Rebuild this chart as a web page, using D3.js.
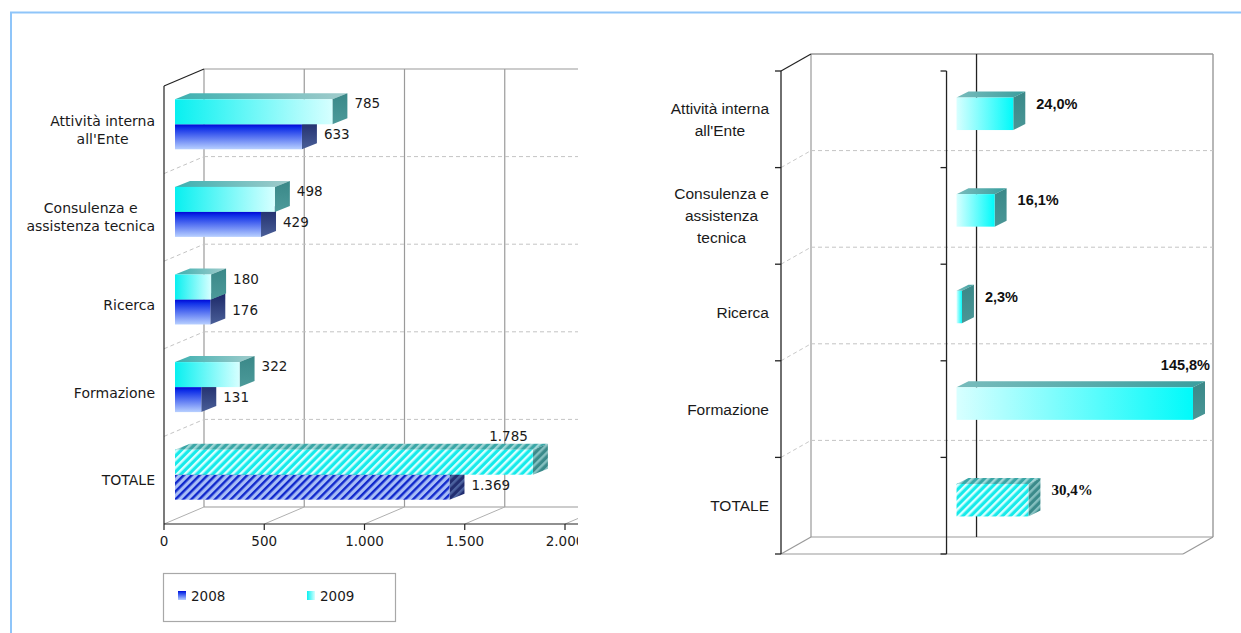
<!DOCTYPE html>
<html>
<head>
<meta charset="utf-8">
<script src="https://cdn.jsdelivr.net/npm/d3@7"></script>
<style>
  html, body { margin: 0; padding: 0; background: #fff; overflow: hidden; }
</style>
</head>
<body>
<script>
// ---- data ----
const categories = ["Attività interna all'Ente", "Consulenza e assistenza tecnica", "Ricerca", "Formazione", "TOTALE"];
const seriesNames = ["2008", "2009"];
const values2008 = [633, 429, 176, 131, 1369];
const values2009 = [785, 498, 180, 322, 1785];
const growthPct = [24.0, 16.1, 2.3, 145.8, 30.4];
const leftTicks = [0, 500, 1000, 1500, 2000];
const rightDomain = [-70, 100];
const totalCategory = "TOTALE";

// ---- setup ----
const W = 1241, H = 633;
const svg = d3.select("body").append("svg")
  .attr("width", W).attr("height", H).style("display", "block");
const defs = svg.append("defs");

const it = d3.formatLocale({ decimal: ",", thousands: ".", grouping: [3], currency: ["€", ""] });
const fmtInt = it.format(",d");
const fmtPct = v => it.format(",.1f")(v) + "%";

const FONT_L = "14px 'DejaVu Sans', Verdana, sans-serif";
const FONT_LV = "13.5px 'DejaVu Sans', Verdana, sans-serif";
const FONT_R = "15.5px 'Liberation Sans', Arial, sans-serif";
const FONT_RV = "bold 14.5px 'Liberation Sans', Arial, sans-serif";
const FONT_RV_T = "bold 15px 'Liberation Serif', 'Times New Roman', serif";

function measure(text, font) {
  const t = svg.append("text").style("font", font).text(text);
  const w = t.node().getComputedTextLength();
  t.remove();
  return w;
}
function wrap(label, font, maxW) {
  const words = label.split(" ");
  const lines = [];
  let cur = "";
  for (const w of words) {
    const test = cur ? cur + " " + w : w;
    if (cur && measure(test, font) > maxW) { lines.push(cur); cur = w; }
    else cur = test;
  }
  lines.push(cur);
  return lines;
}

// ---- gradients & patterns ----
function linGrad(id, horizontal, stops) {
  const g = defs.append("linearGradient").attr("id", id)
    .attr("x1", 0).attr("y1", 0)
    .attr("x2", horizontal ? 1 : 0).attr("y2", horizontal ? 0 : 1);
  stops.forEach(([o, c]) => g.append("stop").attr("offset", o).attr("stop-color", c));
}
linGrad("g09front", true, [[0, "#08f0f0"], [1, "#d6ffff"]]);
linGrad("g09top", true, [[0, "#3cb0b0"], [1, "#a2cccc"]]);
linGrad("g09side", false, [[0, "#3a8888"], [1, "#4c9a9a"]]);
linGrad("g08front", false, [[0, "#0006d6"], [0.15, "#1030e8"], [1, "#b8d0ff"]]);
linGrad("g08side", false, [[0, "#1c2868"], [1, "#4a5f98"]]);
linGrad("gRfront", true, [[0, "#d8ffff"], [1, "#00fafa"]]);
linGrad("gRtop", true, [[0, "#78bcbc"], [1, "#3a9e9e"]]);
linGrad("gRside", false, [[0, "#3a8888"], [1, "#4a9696"]]);

function stripes(id, bg, fg) {
  const p = defs.append("pattern").attr("id", id)
    .attr("patternUnits", "userSpaceOnUse")
    .attr("width", 5.6).attr("height", 5.6)
    .attr("patternTransform", "rotate(45)");
  p.append("rect").attr("width", 5.6).attr("height", 5.6).attr("fill", bg);
  p.append("rect").attr("width", 2.4).attr("height", 5.6).attr("fill", fg);
}
stripes("h09front", "#16eaea", "#d8ffff");
stripes("h09top", "#3aa6a6", "#9fd6d6");
stripes("h09side", "#3a8a8a", "#86c0c0");
stripes("h08front", "#a8bdf6", "#1028cc");
stripes("h08side", "#222e70", "#4d63a0");

const fills = {
  "2009": { front: "url(#g09front)", top: "url(#g09top)", side: "url(#g09side)" },
  "2008": { front: "url(#g08front)", top: "url(#g08side)", side: "url(#g08side)" },
  "2009h": { front: "url(#h09front)", top: "url(#h09top)", side: "url(#h09side)" },
  "2008h": { front: "url(#h08front)", top: "url(#h08side)", side: "url(#h08side)" },
  "R": { front: "url(#gRfront)", top: "url(#gRtop)", side: "url(#gRside)" },
  "Rh": { front: "url(#h09front)", top: "url(#h09top)", side: "url(#h09side)" }
};

// draws a box: front rectangle plus top and right faces
function box(g, x0, x1, y0, h, sdx, sdy, f) {
  const y1 = y0 + h;
  g.append("polygon")
    .attr("points", [[x0, y0], [x0 + sdx, y0 + sdy], [x1 + sdx, y0 + sdy], [x1, y0]].join(" "))
    .attr("fill", f.top);
  g.append("polygon")
    .attr("points", [[x1, y0], [x1 + sdx, y0 + sdy], [x1 + sdx, y1 + sdy], [x1, y1]].join(" "))
    .attr("fill", f.side);
  g.append("rect").attr("x", x0).attr("y", y0)
    .attr("width", Math.max(0, x1 - x0)).attr("height", h).attr("fill", f.front);
}

function line(g, x1, y1, x2, y2, stroke, width, dash) {
  const l = g.append("line").attr("x1", x1).attr("y1", y1).attr("x2", x2).attr("y2", y2)
    .attr("stroke", stroke).attr("stroke-width", width || 1);
  if (dash) l.attr("stroke-dasharray", dash);
  return l;
}

function categoryLabels(g, scale, rightEdge, font, maxW, lh) {
  categories.forEach(c => {
    const lines = wrap(c, font, maxW);
    const bw = d3.max(lines, l => measure(l, font));
    const cx = rightEdge - bw / 2;
    const cy = scale(c) + scale.bandwidth() / 2;
    lines.forEach((l, i) => {
      g.append("text").attr("x", cx).attr("y", cy + (i - (lines.length - 1) / 2) * lh)
        .attr("text-anchor", "middle").attr("dominant-baseline", "central")
        .style("font", font).attr("fill", "#1a1a1a").text(l);
    });
  });
}

// ---- outer frame ----
svg.append("path").attr("d", `M11,${H} V12.5 H${W}`)
  .attr("fill", "none").attr("stroke", "#8fc5f9").attr("stroke-width", 2);

// ================= LEFT CHART: values 2008 / 2009 =================
{
  svg.append("clipPath").attr("id", "clipL").append("rect")
    .attr("x", 0).attr("y", 0).attr("width", 578).attr("height", H);
  const g = svg.append("g").attr("clip-path", "url(#clipL)");
  const DX = 40, DY = -17;
  const top = 86, bottom = 524, right = 578;
  const x = d3.scaleLinear().domain([0, 2000]).range([164, 565]);
  const y = d3.scaleBand().domain(categories).range([top, bottom]);
  const grey = "#9a9a9a", axis = "#222";

  // back wall and floor
  line(g, x(0) + DX, top + DY, right, top + DY, grey, 1.2);
  line(g, x(0) + DX, bottom + DY, right, bottom + DY, grey, 1.2);
  leftTicks.forEach(t => {
    line(g, x(t) + DX, top + DY, x(t) + DX, bottom + DY, grey, 1.2);
    line(g, x(t), bottom, x(t) + DX, bottom + DY, "#b0b0b0", 1);
  });
  categories.slice(1).forEach(c => {
    const yy = y(c);
    line(g, x(0), yy, x(0) + DX, yy + DY, "#c4c4c4", 1, "4,3");
    line(g, x(0) + DX, yy + DY, right, yy + DY, "#c4c4c4", 1, "4,3");
  });

  // front axes
  line(g, x(0), top, x(0), bottom, axis, 1.2);
  line(g, x(0), top, x(0) + DX, top + DY, axis, 1.2);
  line(g, x(0), bottom, right, bottom, axis, 1.2);
  leftTicks.forEach(t => {
    line(g, x(t), bottom, x(t), bottom + 6, axis, 1.2);
    g.append("text").attr("x", x(t)).attr("y", bottom + 17)
      .attr("text-anchor", "middle").attr("dominant-baseline", "central")
      .style("font", FONT_LV).attr("fill", "#1a1a1a").text(fmtInt(t));
  });

  // bars
  const bdx = 11, barH = 25, sdx = 15, sdy = -6, shift = -5.5;
  categories.forEach((c, i) => {
    const cy = y(c) + y.bandwidth() / 2 + shift;
    const isTot = c === totalCategory;
    const rows = [
      { s: "2008", v: values2008[i], top: cy, f: fills[isTot ? "2008h" : "2008"], dy: 10 },
      { s: "2009", v: values2009[i], top: cy - barH, f: fills[isTot ? "2009h" : "2009"], dy: 4 }
    ];
    rows.forEach(r => {
      const x0 = x(0) + bdx, x1 = x(r.v) + bdx;
      box(g, x0, x1, r.top, barH, sdx, sdy, r.f);
    });
    rows.forEach(r => {
      const x1 = x(r.v) + bdx;
      const txt = fmtInt(r.v);
      const w = measure(txt, FONT_LV);
      let lx = x1 + sdx + 7, ly = r.top + r.dy, anchor = "start";
      if (lx + w > right - 2) { lx = x1 - 5; ly = r.top + sdy - 8; anchor = "end"; }
      svg.append("text").attr("x", lx).attr("y", ly)
        .attr("text-anchor", anchor).attr("dominant-baseline", "central")
        .style("font", FONT_LV).attr("fill", "#1a1a1a").text(txt);
    });
  });

  categoryLabels(svg, y, 155, FONT_L, 135, 18);

  // legend
  const lg = svg.append("g");
  lg.append("rect").attr("x", 163.5).attr("y", 573.5).attr("width", 232).attr("height", 48)
    .attr("fill", "#fff").attr("stroke", "#a8a8a8").attr("stroke-width", 1.2);
  const legFill = { "2008": "url(#g08front)", "2009": "url(#g09front)" };
  seriesNames.forEach((s, i) => {
    const lx = 178 + i * 129;
    lg.append("rect").attr("x", lx).attr("y", 591).attr("width", 8).attr("height", 9)
      .attr("fill", legFill[s]);
    lg.append("text").attr("x", lx + 13).attr("y", 596)
      .attr("dominant-baseline", "central").style("font", FONT_LV)
      .attr("fill", "#1a1a1a").text(s);
  });
}

// ================= RIGHT CHART: change 2009 vs 2008 =================
{
  const g = svg.append("g");
  const DX = 30, DY = -17;
  const top = 71, bottom = 554;
  const x = d3.scaleLinear().domain(rightDomain).range([781, 1183]);
  const y = d3.scaleBand().domain(categories).range([top, bottom]);
  const grey = "#999", axis = "#222";
  const x0F = x(rightDomain[0]), x1F = x(rightDomain[1]);

  // back wall, floor
  line(g, x0F + DX, top + DY, x1F + DX, top + DY, grey, 1.4);
  line(g, x1F + DX, top + DY, x1F + DX, bottom + DY, grey, 1.4);
  line(g, x0F + DX, top + DY, x0F + DX, bottom + DY, grey, 1.2);
  line(g, x0F + DX, bottom + DY, x1F + DX, bottom + DY, grey, 1.2);
  line(g, x0F, bottom, x1F, bottom, grey, 1.2);
  line(g, x1F, bottom, x1F + DX, bottom + DY, grey, 1.2);
  line(g, x0F, bottom, x0F + DX, bottom + DY, grey, 1.2);
  categories.slice(1).forEach(c => {
    const yy = y(c);
    line(g, x0F, yy, x0F + DX, yy + DY, "#c8c8c8", 1, "4,3");
    line(g, x0F + DX, yy + DY, x1F + DX, yy + DY, "#c4c4c4", 1, "4,3");
  });

  // zero line on back wall and axes on the front
  line(g, x(0) + DX, top + DY, x(0) + DX, bottom + DY, axis, 1.3);
  line(g, x0F, top, x0F + DX, top + DY, axis, 1.2);
  const boundaries = categories.map(c => y(c)).concat([bottom]);
  [x0F, x(0)].forEach(ax => {
    line(g, ax, top, ax, bottom, axis, 1.3);
    boundaries.forEach(b => line(g, ax - 6, b, ax, b, axis, 1.3));
  });

  // bars
  const bdx = 10, barH = 32.5, sdx = 12, sdy = -6, shift = -5.5;
  categories.forEach((c, i) => {
    const v = growthPct[i];
    const isTot = c === totalCategory;
    const yt = y(c) + y.bandwidth() / 2 + shift - barH / 2;
    const vx = Math.min(Math.max(v, rightDomain[0]), rightDomain[1]);
    const bx0 = x(0) + bdx, bx1 = x(vx) + bdx;
    box(g, bx0, bx1, yt, barH, sdx, sdy, fills[isTot ? "Rh" : "R"]);

    const font = isTot ? FONT_RV_T : FONT_RV;
    const txt = fmtPct(v);
    const w = measure(txt, font);
    let lx = bx1 + sdx + 11, ly = yt + 6, anchor = "start";
    if (lx + w > x1F + DX) { lx = bx1 + sdx + 5; ly = yt - 22; anchor = "end"; }
    g.append("text").attr("x", lx).attr("y", ly)
      .attr("text-anchor", anchor).attr("dominant-baseline", "central")
      .style("font", font).attr("fill", "#111").text(txt);
  });

  categoryLabels(g, y, 769, FONT_R, 110, 22);
}
</script>
</body>
</html>
